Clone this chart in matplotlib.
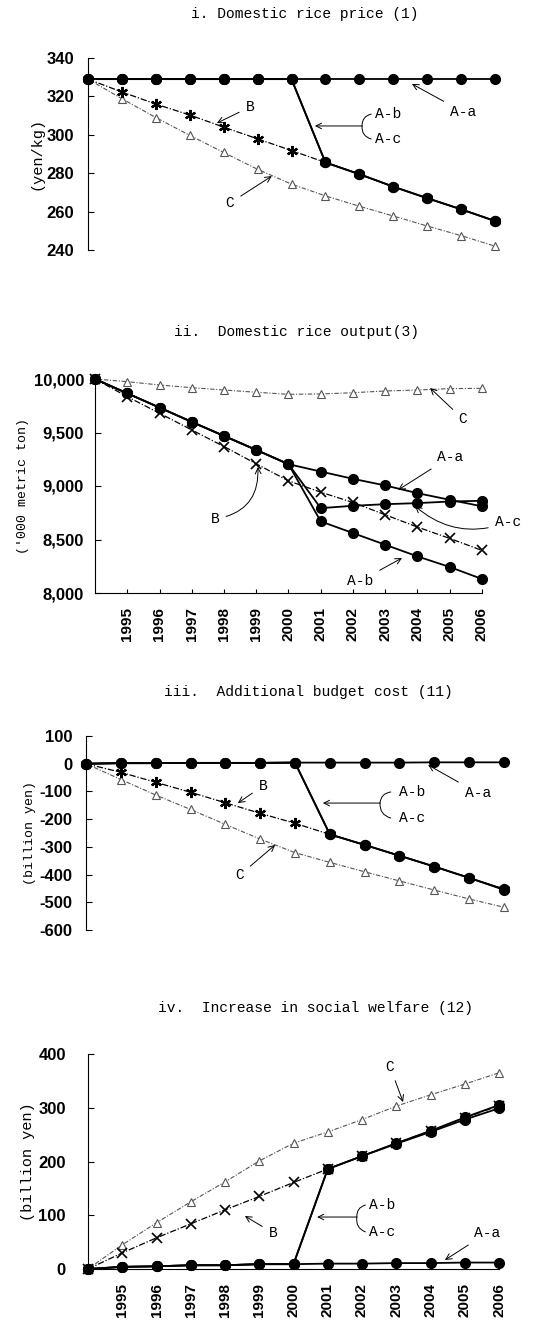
import matplotlib
matplotlib.use("Agg")
import matplotlib.pyplot as plt

# ---- data ----
years = list(range(1994, 2007))
year_labels = [str(y) for y in years[1:]]

# i. Domestic rice price (yen/kg)
price_Aa = [329, 329, 329, 329, 329, 329, 329, 329, 329, 329, 329, 329, 329]
price_Ab = [329, 329, 329, 329, 329, 329, 329, 285.6, 279.5, 273, 267, 261.2, 255.1]
price_Ac = [329, 329, 329, 329, 329, 329, 329, 285.6, 279.5, 273, 267, 261.2, 255.1]
price_B = [329, 322.3, 316, 310.3, 304, 297.9, 291.8, 285.6, 279.5, 273, 267, 261.2, 255.1]
price_C = [329, 318.8, 309, 299.7, 290.8, 282, 274.3, 268.2, 262.8, 257.7, 252.5, 247.5, 242]

# ii. Domestic rice output ('000 metric ton)
output_Aa = [10000, 9866, 9733, 9599, 9468, 9337, 9204, 9135, 9067, 9005, 8933, 8871, 8810]
output_Ab = [10000, 9866, 9733, 9599, 9468, 9337, 9204, 8669, 8560, 8451, 8342, 8243, 8131]
output_Ac = [10000, 9866, 9733, 9599, 9468, 9337, 9204, 8793, 8815, 8830, 8840, 8855, 8862]
output_B = [10000, 9835, 9680, 9524, 9369, 9207, 9048, 8942, 8846, 8731, 8616, 8510, 8398]
output_C = [10000, 9975, 9944, 9919, 9897, 9876, 9857, 9860, 9872, 9888, 9897, 9910, 9913]

# iii. Additional budget cost (billion yen)
budget_Aa = [0, 2, 2, 3, 3, 3, 4, 4, 4, 4, 5, 5, 5]
budget_Ab = [0, 2, 2, 3, 3, 3, 4, -255, -293, -332, -371, -412, -453]
budget_Ac = [0, 2, 2, 3, 3, 3, 4, -255, -293, -332, -371, -412, -455]
budget_B = [0, -31, -67, -103, -141, -179, -215, -255, -293, -332, -371, -412, -453]
budget_C = [0, -57, -113, -165, -219, -272, -321, -356, -390, -423, -456, -488, -518]

# iv. Increase in social welfare (billion yen)
welfare_Aa = [0, 4, 5, 7, 7, 9, 9, 10, 10, 11, 11, 12, 12]
welfare_Ab = [0, 4, 5, 7, 7, 9, 9, 186, 210, 234, 257, 282, 305]
welfare_Ac = [0, 4, 5, 7, 7, 9, 9, 186, 210, 233, 255, 278, 299]
welfare_B = [0, 30, 58, 84, 110, 135, 161, 186, 210, 234, 257, 281, 304]
welfare_C = [0, 45, 86, 125, 162, 201, 234, 255, 278, 303, 324, 344, 365]

MONO = ["Liberation Mono", "DejaVu Sans Mono"]
NARROW = ["Liberation Sans Narrow", "Liberation Sans", "DejaVu Sans"]

W, H = 537, 1321
fig = plt.figure(figsize=(W / 100, H / 100), dpi=100)


def make_axes(left, right, top, bottom):
    """Axes box given in pixel coordinates measured from the top-left."""
    return fig.add_axes([left / W, (H - bottom) / H, (right - left) / W, (bottom - top) / H])


def draw_series(ax, aa, ab, ac, b, c, b_marker, b_ms, b_mew):
    x = list(range(len(years)))
    ax.plot(x, c, color="#555555", lw=0.8, ls=(0, (4, 1.5, 1, 1.5)),
            marker="^", ms=6, mfc="white", mec="#555555", mew=0.8, clip_on=False, zorder=2)
    ax.plot(x, b, color="black", lw=0.9, ls=(0, (5, 1.5, 1, 1.5)),
            marker=b_marker, ms=b_ms, mec="black", mew=b_mew, clip_on=False, zorder=3)
    for s in (ac, ab, aa):
        ax.plot(x, s, color="black", lw=1.3, marker="o", ms=7,
                mfc="black", mec="black", clip_on=False, zorder=4)
    ax.set_xlim(0, 12)


def style_axes(ax, yticks, ylabels, bottom_axis, ypad=10):
    ax.set_yticks(yticks)
    ax.set_yticklabels(ylabels, family=NARROW, fontsize=12, fontweight="bold")
    ax.tick_params(axis="y", direction="in", length=4, width=0.8, pad=ypad)
    for sp in ("top", "right"):
        ax.spines[sp].set_visible(False)
    ax.spines["left"].set_linewidth(0.8)
    if bottom_axis:
        ax.spines["bottom"].set_linewidth(0.8)
        ax.set_xticks(range(1, 13))
        ax.set_xticklabels(year_labels, rotation=90, family=NARROW,
                           fontsize=11, fontweight="bold")
        ax.tick_params(axis="x", direction="in", length=3, width=0.8, pad=10)
    else:
        ax.spines["bottom"].set_visible(False)
        ax.set_xticks([])


def label(ax, text, xy, xytext, rad=0.0):
    ax.annotate(text, xy=xy, xytext=xytext, ha="center", va="center",
                family=MONO, fontsize=10.5,
                arrowprops=dict(arrowstyle="->", color="black", lw=0.7,
                                shrinkA=3, shrinkB=0,
                                connectionstyle="arc3,rad=%s" % rad))


def bracket(ax, xb, yarrow, xtip, ytop, ybot, xtext):
    ax.annotate("", xy=(xtip, yarrow), xytext=(xb, yarrow),
                arrowprops=dict(arrowstyle="->", color="black", lw=0.7, shrinkA=0, shrinkB=0))
    ax.annotate("", xy=(xtext, ytop), xytext=(xb, yarrow),
                arrowprops=dict(arrowstyle="-", color="black", lw=0.7, shrinkA=0, shrinkB=0,
                                connectionstyle="arc3,rad=-0.4"))
    ax.annotate("", xy=(xtext, ybot), xytext=(xb, yarrow),
                arrowprops=dict(arrowstyle="-", color="black", lw=0.7, shrinkA=0, shrinkB=0,
                                connectionstyle="arc3,rad=0.4"))


# ---- i. price ----
ax1 = make_axes(88, 495, 58, 250)
draw_series(ax1, price_Aa, price_Ab, price_Ac, price_B, price_C, (6, 2, 0), 8, 1.6)
ax1.set_ylim(240, 340)
style_axes(ax1, [240, 260, 280, 300, 320, 340], ["240", "260", "280", "300", "320", "340"], False)
ax1.set_ylabel("(yen/kg)", family=MONO, fontsize=11, labelpad=2)
fig.text(305 / W, 1 - 14 / H, "i. Domestic rice price (1)", ha="center", va="center",
         family=MONO, fontsize=10.5)
label(ax1, "B", (3.80, 306.1), (4.78, 314.5))
label(ax1, "C", (5.42, 278.5), (4.19, 264.5))
label(ax1, "A-a", (9.55, 326.5), (11.06, 311.9))
ax1.text(8.85, 310.8, "A-b", ha="center", va="center", family=MONO, fontsize=10.5)
ax1.text(8.85, 297.8, "A-c", ha="center", va="center", family=MONO, fontsize=10.5)
bracket(ax1, 8.08, 304.6, 6.69, 310.8, 297.8, 8.35)

# ---- ii. output ----
ax2 = make_axes(95, 482, 379, 593)
draw_series(ax2, output_Aa, output_Ab, output_Ac, output_B, output_C, "x", 7, 1.2)
ax2.set_ylim(8000, 10000)
style_axes(ax2, [8000, 8500, 9000, 9500, 10000],
           ["8,000", "8,500", "9,000", "9,500", "10,000"], True, ypad=8)
ax2.set_ylabel("('000 metric ton)", family=MONO, fontsize=9.5, labelpad=3)
fig.text(296 / W, 1 - 332 / H, "ii.  Domestic rice output(3)", ha="center", va="center",
         family=MONO, fontsize=10.5)
label(ax2, "C", (10.39, 9916), (11.41, 9626))
label(ax2, "A-a", (9.40, 8963), (11.01, 9271))
label(ax2, "B", (5.05, 9178), (3.72, 8692), rad=0.45)
label(ax2, "A-c", (9.92, 8813), (12.81, 8663), rad=-0.3)
label(ax2, "A-b", (9.52, 8327), (8.22, 8112))

# ---- iii. budget ----
ax3 = make_axes(86, 504, 736, 930)
draw_series(ax3, budget_Aa, budget_Ab, budget_Ac, budget_B, budget_C, (6, 2, 0), 8, 1.6)
ax3.set_ylim(-600, 100)
style_axes(ax3, [-600, -500, -400, -300, -200, -100, 0, 100],
           ["-600", "-500", "-400", "-300", "-200", "-100", "0", "100"], False)
ax3.set_ylabel("(billion yen)", family=MONO, fontsize=9.5, labelpad=2)
fig.text(308 / W, 1 - 692 / H, "iii.  Additional budget cost (11)", ha="center", va="center",
         family=MONO, fontsize=10.5)
label(ax3, "B", (4.36, -142), (5.08, -80))
label(ax3, "C", (5.43, -293), (4.42, -401.5))
label(ax3, "A-a", (9.82, -4.6), (11.25, -106))
ax3.text(9.36, -102, "A-b", ha="center", va="center", family=MONO, fontsize=10.5)
ax3.text(9.36, -196, "A-c", ha="center", va="center", family=MONO, fontsize=10.5)
bracket(ax3, 8.44, -142, 6.80, -102, -196, 8.75)

# ---- iv. welfare ----
ax4 = make_axes(88, 499, 1054, 1269)
draw_series(ax4, welfare_Aa, welfare_Ab, welfare_Ac, welfare_B, welfare_C, "x", 7, 1.2)
ax4.set_ylim(0, 400)
style_axes(ax4, [0, 100, 200, 300, 400], ["0", "100", "200", "300", "400"], True, ypad=16)
ax4.set_ylabel("(billion yen)", family=MONO, fontsize=11, labelpad=2)
fig.text(315 / W, 1 - 1008 / H, "iv.  Increase in social welfare (12)", ha="center",
         va="center", family=MONO, fontsize=10.5)
label(ax4, "C", (9.20, 310.7), (8.82, 375.8))
label(ax4, "B", (4.58, 98.6), (5.40, 67))
label(ax4, "A-a", (10.42, 16.7), (11.65, 67))
ax4.text(8.58, 119, "A-b", ha="center", va="center", family=MONO, fontsize=10.5)
ax4.text(8.58, 69, "A-c", ha="center", va="center", family=MONO, fontsize=10.5)
bracket(ax4, 7.85, 96.7, 6.69, 119, 69, 8.1)

fig.savefig("out.png", dpi=100)
